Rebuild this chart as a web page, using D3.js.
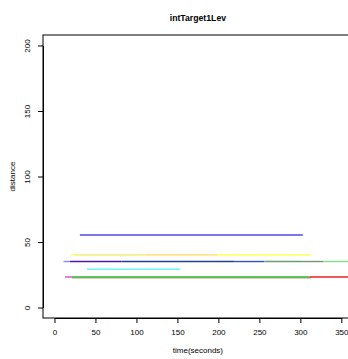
<!DOCTYPE html>
<html>
<head>
<meta charset="utf-8">
<script src="https://cdn.jsdelivr.net/npm/d3@7"></script>
<style>
  body { margin: 0; background: #fff; }
  svg { display: block; font-family: "Liberation Sans", Arial, sans-serif; }
</style>
</head>
<body>
<figure id="chart" style="margin:0"></figure>
<script>
const title = 'intTarget1Lev';
const xLabel = 'time(seconds)';
const yLabel = 'distance';
const xTicks = [0, 50, 100, 150, 200, 250, 300, 350];
const yTicks = [0, 50, 100, 150, 200];

// horizontal segments: distance, start time, end time
const segDistance = [55.3, 40.2, 40.2, 40.2, 35.1, 35.1, 35.1, 35.1, 35.1, 35.1, 35.1, 29.3, 22.5, 23.3, 23.3, 23.3];
const segStart = [31, 20.5, 25, 111, 11, 19, 82, 220, 256, 302, 328, 39.5, 21, 13, 21, 311];
const segEnd = [303, 313, 111, 198, 19, 82, 220, 256, 302, 328, 364, 153, 313, 21, 311, 364];
const segColor = ['#4b4be6', '#ffff33', '#efebaa', '#ffd9a6', '#8a8af5', '#521a96', '#21418a', '#3453c0',
  '#65a070', '#7a917a', '#85e085', '#4ff0f0', '#cfc3a6', '#e040e0', '#36b036', '#e82020'];

const width = 348, height = 359;
const plot = { left: 43, right: 352.8, top: 35, bottom: 318 };

const svg = d3.select('figure#chart').append('svg')
  .attr('width', width).attr('height', height);

const x = d3.scaleLinear().domain([-14, 364]).range([plot.left, plot.right]);
const y = d3.scaleLinear().domain([-8, 208]).range([plot.bottom, plot.top]);

svg.append('clipPath').attr('id', 'clip')
  .append('rect')
  .attr('x', plot.left).attr('y', plot.top)
  .attr('width', plot.right - plot.left).attr('height', plot.bottom - plot.top);

const segs = segDistance.map((d, i) => ({ d: d, s: segStart[i], e: segEnd[i], c: segColor[i] }));

svg.append('g').attr('clip-path', 'url(#clip)')
  .selectAll('line')
  .data(segs)
  .join('line')
  .attr('x1', (d) => x(d.s))
  .attr('x2', (d) => x(d.e))
  .attr('y1', (d) => y(d.d))
  .attr('y2', (d) => y(d.d))
  .style('stroke', (d) => d.c)
  .style('stroke-width', 1.4);

// box
svg.append('rect')
  .attr('x', plot.left).attr('y', plot.top)
  .attr('width', plot.right - plot.left).attr('height', plot.bottom - plot.top)
  .style('fill', 'none').style('stroke', '#000').style('stroke-width', 1);

const xAxisScale = d3.scaleLinear().domain([0, 350]).range([x(0), x(350)]);
const yAxisScale = d3.scaleLinear().domain([0, 200]).range([y(0), y(200)]);

const gx = svg.append('g')
  .attr('transform', `translate(0,${plot.bottom})`)
  .call(d3.axisBottom(xAxisScale).tickValues(xTicks).tickSize(5).tickSizeOuter(0).tickPadding(6));

const gy = svg.append('g')
  .attr('transform', `translate(${plot.left},0)`)
  .call(d3.axisLeft(yAxisScale).tickValues(yTicks).tickSize(5).tickSizeOuter(0).tickPadding(6));

[gx, gy].forEach((g) => {
  g.selectAll('text').style('font-size', '8px').style('fill', '#000')
    .style('font-family', '"Liberation Sans", Arial, sans-serif');
  g.selectAll('line, path').style('stroke', '#000');
});

gy.selectAll('.tick text')
  .attr('x', null).attr('dy', null)
  .attr('transform', 'translate(-13,0) rotate(-90)')
  .attr('text-anchor', 'middle')
  .attr('dy', '0em');

svg.append('text')
  .attr('x', (plot.left + plot.right) / 2).attr('y', 21)
  .attr('text-anchor', 'middle')
  .style('font-size', '8.7px').style('font-weight', 'bold')
  .text(title);

svg.append('text')
  .attr('x', (plot.left + plot.right) / 2).attr('y', 353)
  .attr('text-anchor', 'middle')
  .style('font-size', '8px')
  .text(xLabel);

svg.append('text')
  .attr('transform', `translate(15,${(plot.top + plot.bottom) / 2}) rotate(-90)`)
  .attr('text-anchor', 'middle')
  .style('font-size', '8px')
  .text(yLabel);
</script>
</body>
</html>
